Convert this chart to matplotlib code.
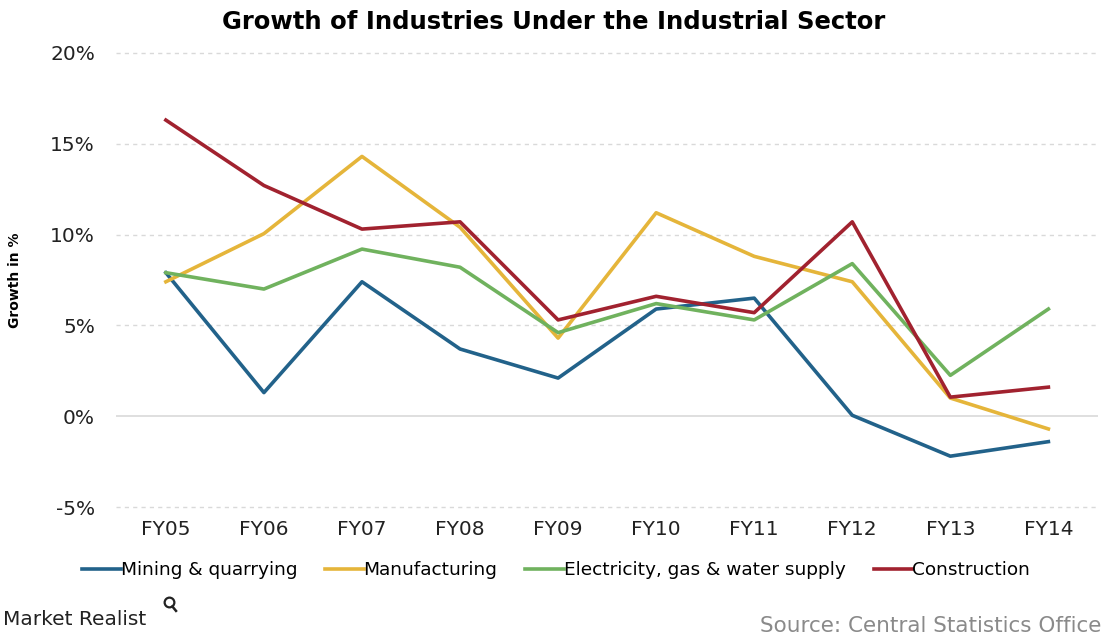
import matplotlib.pyplot as plt
import numpy as np

plt.rcParams['font.family'] = ['DejaVu Sans']

years = ['FY05', 'FY06', 'FY07', 'FY08', 'FY09', 'FY10', 'FY11', 'FY12', 'FY13', 'FY14']
mining = [7.9, 1.3, 7.4, 3.7, 2.1, 5.9, 6.5, 0.05, -2.2, -1.4]
manufacturing = [7.4, 10.05, 14.3, 10.4, 4.3, 11.2, 8.8, 7.4, 1.0, -0.7]
electricity = [7.9, 7.0, 9.2, 8.2, 4.6, 6.2, 5.3, 8.4, 2.25, 5.9]
construction = [16.3, 12.7, 10.3, 10.7, 5.3, 6.6, 5.7, 10.7, 1.05, 1.6]
yticks = [-5, 0, 5, 10, 15, 20]

fig = plt.figure(figsize=(11.14, 6.37), dpi=100)
ax = fig.add_axes([0.104, 0.204, 0.882, 0.713])

x = np.arange(len(years))
ax.plot(x, mining, color='#22628a', lw=2.6, label='Mining & quarrying')
ax.plot(x, manufacturing, color='#e5b53a', lw=2.6, label='Manufacturing')
ax.plot(x, electricity, color='#70b25e', lw=2.6, label='Electricity, gas & water supply')
ax.plot(x, construction, color='#a1222f', lw=2.6, label='Construction')

ax.set_xlim(-0.51, 9.51)
ax.set_ylim(-5, 20)
for v in [-5, 5, 10, 15, 20]:
    ax.axhline(v, color='#d9d9d9', lw=1, ls=(0, (3, 3)), zorder=0, clip_on=False)
ax.axhline(0, color='#d9d9d9', lw=1.2, zorder=0)

ax.set_xticks(x)
ax.set_xticklabels(years, fontsize=14.5, color='#222222')
ax.set_yticks(yticks)
ax.set_yticklabels([f'{v}%' for v in yticks], fontsize=14.5, color='#222222')
ax.tick_params(length=0, axis='y', pad=15)
ax.tick_params(length=0, axis='x', pad=9)
for s in ax.spines.values():
    s.set_visible(False)

ax.set_ylabel('Growth in %', fontsize=10, fontweight='bold', labelpad=20)

fig.suptitle('Growth of Industries Under the Industrial Sector', fontsize=17.5,
             fontweight='bold', x=0.497, y=0.985)

ax.legend(loc='upper center', bbox_to_anchor=(0.448, -0.083), ncol=4, frameon=False,
          fontsize=13.3, handlelength=2.1, handletextpad=0.0, columnspacing=1.5)

fig.text(0.003, 0.019, 'Market Realist', fontsize=14.5, color='#222222')
# small magnifier logo
fig.add_artist(plt.Line2D([0.152], [0.055], transform=fig.transFigure, marker='o',
                          markersize=7, mfc='none', mec='#222222', mew=1.6))
fig.add_artist(plt.Line2D([0.1547, 0.158], [0.048, 0.041], transform=fig.transFigure,
                          lw=1.8, color='#222222'))
fig.text(0.989, 0.008, 'Source: Central Statistics Office', fontsize=15.5,
         color='#8a8a8a', ha='right')

fig.savefig('out.png', dpi=100)
